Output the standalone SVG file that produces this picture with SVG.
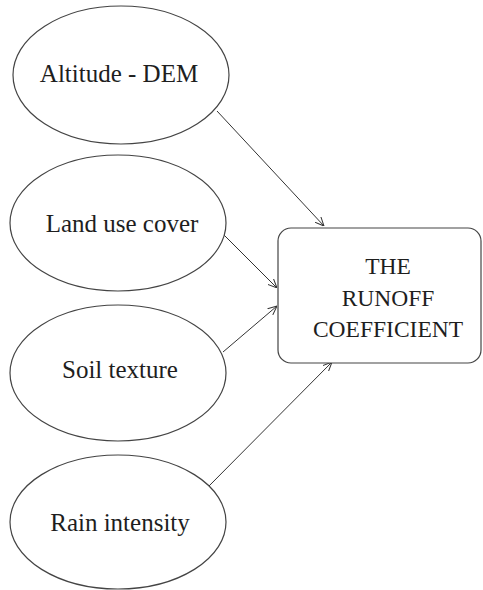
<svg xmlns="http://www.w3.org/2000/svg" width="483" height="590" viewBox="0 0 483 590">
<style>
.n{fill:#fff;stroke:#444;stroke-width:1.2}
text{font-family:'Liberation Serif','Times New Roman',serif;fill:#1e1e1e;text-anchor:middle}
.e{font-size:25px}
.b{font-size:23.5px}
.c{stroke:#333;stroke-width:1;fill:none;marker-end:url(#ah)}
</style>
<defs>
<marker id="ah" viewBox="0 0 10 10" refX="10" refY="5" markerWidth="9" markerHeight="9" markerUnits="userSpaceOnUse" orient="auto">
<path d="M0,0.5 L10,5 L0,9.5" fill="none" stroke="#333" stroke-width="1.1"/>
</marker>
</defs>
<rect width="483" height="590" fill="#fff"/>
<g id="connectors">
<line class="c" x1="217" y1="111" x2="324" y2="226"/>
<line class="c" x1="223" y1="234" x2="277" y2="288"/>
<line class="c" x1="223" y1="352" x2="277" y2="306"/>
<line class="c" x1="208" y1="487" x2="332" y2="362"/>
</g>
<g id="altitude">
<ellipse class="n" cx="121" cy="75" rx="108" ry="69"/>
<text class="e" x="119" y="82">Altitude - DEM</text>
</g>
<g id="landuse">
<ellipse class="n" cx="118" cy="223" rx="108" ry="68"/>
<text class="e" x="122" y="232">Land use cover</text>
</g>
<g id="soil">
<ellipse class="n" cx="118" cy="373" rx="108" ry="68"/>
<text class="e" x="120" y="378">Soil texture</text>
</g>
<g id="rain">
<ellipse class="n" cx="118" cy="522" rx="108" ry="67"/>
<text class="e" x="120" y="531">Rain intensity</text>
</g>
<g id="runoff">
<rect class="n" x="278" y="228" width="203" height="135" rx="13" ry="13"/>
<text class="b" x="388" y="274">THE</text>
<text class="b" x="388" y="306">RUNOFF</text>
<text class="b" x="388" y="337">COEFFICIENT</text>
</g>
</svg>
